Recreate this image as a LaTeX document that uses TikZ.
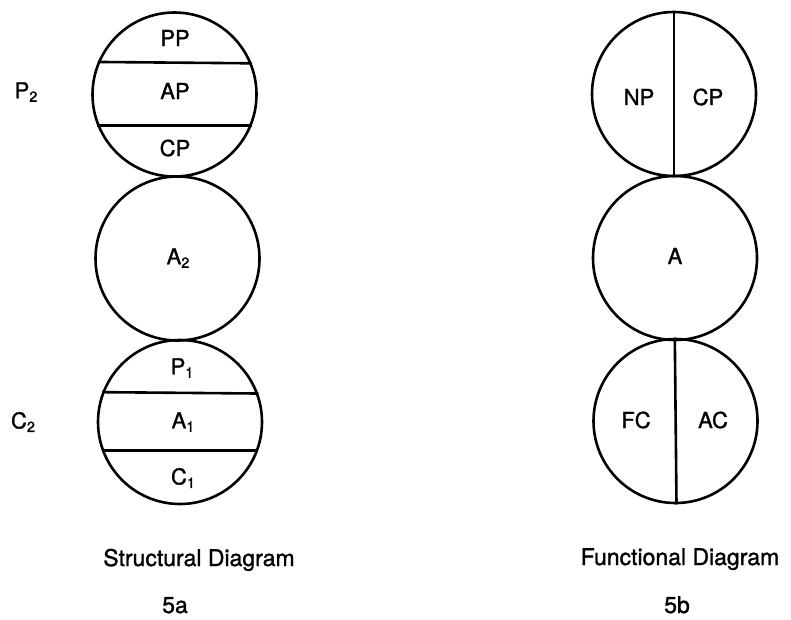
\documentclass[tikz,border=0pt]{standalone}
\usepackage{fontspec}
\setmainfont{TeX Gyre Heros}[FakeBold=1.2]
\newcommand{\lowsub}[1]{\raisebox{-0.3ex}{\fontsize{14.5}{14.5}\selectfont #1}}
\begin{document}
\begin{tikzpicture}[x=1pt,y=-1pt,
  ring/.style={draw,circle,line width=2.6pt,minimum size=164pt,inner sep=0pt},
  chord/.style={line width=2.6pt},
  lab/.style={font=\fontsize{22}{22}\selectfont,inner sep=0pt},
  captext/.style={font=\fontsize{23}{23}\selectfont,inner sep=0pt,anchor=base}]
\useasboundingbox (0,0) rectangle (791,619);
% structural diagram
\node[ring] (s1) at (174.5,94.5) {};
\node[ring] (s2) at (177.5,258.5) {};
\node[ring] (s3) at (180,422) {};
\draw[chord] (s1.157.5) -- (s1.22.5);
\draw[chord] (s1.-158) -- (s1.-22);
\draw[chord] (s3.159.5) -- (s3.20.5);
\draw[chord] (s3.-160) -- (s3.-20);
\node[lab] (pp) at (175,38) {PP};
\node[lab] (ap) at (175,91) {AP};
\node[lab] (cp1) at (175,148) {CP};
\node[lab] (p2) at (26,92) {P\lowsub{2}};
\node[lab] (a2) at (178,258) {A\lowsub{2}};
\node[lab] (p1) at (182,368) {P\lowsub{1}};
\node[lab] (a1) at (183,422) {A\lowsub{1}};
\node[lab] (c1) at (183,478) {C\lowsub{1}};
\node[lab] (c2) at (23,422) {C\lowsub{2}};
% functional diagram
\node[ring] (f1) at (674,94) {};
\node[ring] (f2) at (675,258) {};
\node[ring] (f3) at (675.5,421) {};
\draw[chord] (f1.90) -- (f1.-90);
\draw[chord] ([xshift=-0.7pt]f3.90) -- ([xshift=1pt]f3.-90);
\node[lab] (np) at (639,97) {NP};
\node[lab] (cp2) at (708,97) {CP};
\node[lab] (a) at (675,256) {A};
\node[lab] (fc) at (636,420) {FC};
\node[lab] (ac) at (713,420) {AC};
% captions
\node[captext] (sd) at (199,566) {Structural Diagram};
\node[captext] (fd) at (680,565) {Functional Diagram};
\node[captext] (n5a) at (175,613) {5a};
\node[captext] (n5b) at (677,613) {5b};
\end{tikzpicture}
\end{document}
